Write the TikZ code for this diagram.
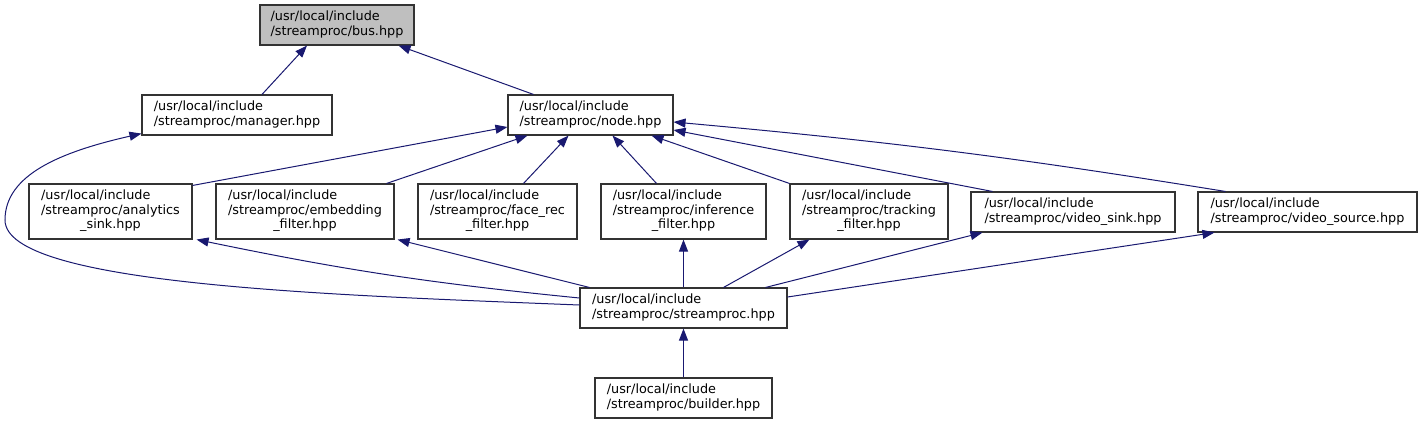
\documentclass[tikz,border=0pt]{standalone}
\usepackage{fontspec}
\setmainfont{DejaVu Sans}
\usepackage{tikz}
\usetikzlibrary{arrows,arrows.meta,positioning}
\definecolor{myblue}{RGB}{25,25,112}
\definecolor{mygrey}{RGB}{191,191,191}
\newcommand{\fname}[1]{\begin{tabular}{@{}l@{}}#1\end{tabular}}
\newcommand{\lastln}[1]{\multicolumn{1}{@{}c@{}}{#1}}
\tikzset{
  basic/.style = {draw=black!80, line width=1.1pt, fill=white, inner sep=2pt,
                  font=\fontsize{12.8}{14.5}\selectfont, minimum height=40pt},
  root/.style   = {basic, fill=mygrey},
  tall/.style   = {basic, minimum height=55pt},
  inc/.style    = {->, >={Triangle[length=12pt,width=9pt]}, draw=myblue,
                   line width=1pt}
}

\begin{document}
\begin{tikzpicture}[x=1pt,y=-1pt]
  \useasboundingbox (0,0) rectangle (1423,424);
  % files
  \node[root, minimum width=154pt] (bus) at (337,25) {\fname{/usr/local/include\\/streamproc/bus.hpp}};
  \node[basic, minimum width=190pt] (manager) at (237,115) {\fname{/usr/local/include\\/streamproc/manager.hpp}};
  \node[basic, minimum width=165pt] (node) at (590.5,115) {\fname{/usr/local/include\\/streamproc/node.hpp}};
  \node[tall, minimum width=163pt] (analytics) at (110.5,211.5) {\fname{/usr/local/include\\/streamproc/analytics\\\lastln{\_sink.hpp}}};
  \node[tall, minimum width=178pt] (embedding) at (305,211.5) {\fname{/usr/local/include\\/streamproc/embedding\\\lastln{\_filter.hpp}}};
  \node[tall, minimum width=159pt] (facerec) at (497.5,211.5) {\fname{/usr/local/include\\/streamproc/face\_rec\\\lastln{\_filter.hpp}}};
  \node[tall, minimum width=165pt] (inference) at (683.5,211.5) {\fname{/usr/local/include\\/streamproc/inference\\\lastln{\_filter.hpp}}};
  \node[tall, minimum width=158pt] (tracking) at (869,211.5) {\fname{/usr/local/include\\/streamproc/tracking\\\lastln{\_filter.hpp}}};
  \node[basic, minimum width=204pt] (vsink) at (1073,212) {\fname{/usr/local/include\\/streamproc/video\_sink.hpp}};
  \node[basic, minimum width=219pt] (vsource) at (1307.5,212) {\fname{/usr/local/include\\/streamproc/video\_source.hpp}};
  \node[basic, minimum width=207pt] (streamproc) at (683.5,308) {\fname{/usr/local/include\\/streamproc/streamproc.hpp}};
  \node[basic, minimum width=177pt] (builder) at (683.5,398) {\fname{/usr/local/include\\/streamproc/builder.hpp}};

  % includes
  \path[every edge/.style=inc]
        ([xshift=25pt]manager.north) edge ([xshift=-30pt]bus.south)
        ([xshift=-57pt]node.north) edge ([xshift=-16pt]bus.south east)
        ([yshift=-2pt]analytics.north east) edge ([yshift=-12pt]node.west)
        ([xshift=-8pt]embedding.north east) edge ([xshift=20pt]node.south west)
        ([xshift=26pt]facerec.north) edge ([xshift=-22pt]node.south)
        ([xshift=-27pt]inference.north) edge ([xshift=22pt]node.south)
        (tracking.north west) edge ([xshift=-22pt]node.south east)
        ([xshift=22pt]vsink.north west) edge ([yshift=-15pt]node.east)
        ([xshift=28pt]vsource.north west) edge [bend right=2] ([yshift=-7pt]node.east)
        ([yshift=10pt]streamproc.west) edge [bend left=3] ([xshift=4pt]analytics.south east)
        ([xshift=10pt]streamproc.north west) edge ([xshift=3pt]embedding.south east)
        (streamproc.north) edge (inference.south)
        ([xshift=40pt]streamproc.north) edge ([xshift=20pt]tracking.south west)
        ([xshift=-22pt]streamproc.north east) edge ([xshift=12pt]vsink.south west)
        ([yshift=11pt]streamproc.east) edge ([xshift=17pt]vsource.south west)
        (builder.north) edge (streamproc.south);
  \draw[inc] ([yshift=3pt]streamproc.west) .. controls (330,295) and (5,285) .. (5,220)
        .. controls (5,175) and (60,152) .. ([yshift=2pt]manager.south west);
\end{tikzpicture}
\end{document}
